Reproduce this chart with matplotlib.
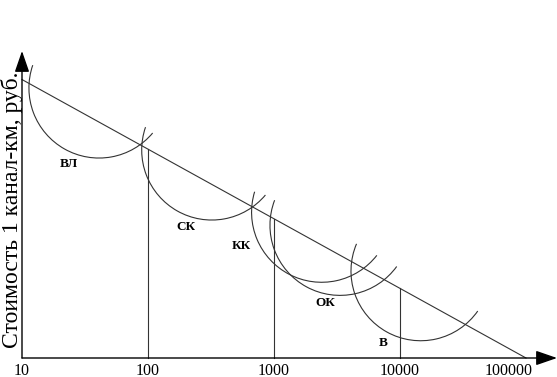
import matplotlib
matplotlib.use("Agg")
import matplotlib.pyplot as plt
from matplotlib.patches import Arc
import numpy as np

# ---- data (x in log10 of the count, y in relative cost units) ----
tick_values = [10, 100, 1000, 10000, 100000]
tick_labels = ["10", "100", "1000", "10000", "100000"]
cost_line_x = [10, 100000]
cost_line_y = [2.21, 0.0]
boundaries = [100, 1000, 10000]
arc_names = ["ВЛ", "СК", "КК", "ОК", "В"]
arc_center_x = [10 ** 1.611, 10 ** 2.506, 10 ** 3.378, 10 ** 3.524, 10 ** 4.164]
arc_center_y = [2.143, 1.651, 1.157, 1.053, 0.690]
arc_radius = [0.556, 0.556, 0.556, 0.556, 0.553]
arc_theta1 = [161, 161, 163, 159, 157]
arc_theta2 = [320, 320, 322, 324, 325]
label_x = [10 ** 1.373, 10 ** 2.302, 10 ** 2.738, 10 ** 3.405, 10 ** 3.865]
label_y = [1.540, 1.040, 0.889, 0.437, 0.119]
ylabel = "Стоимость 1 канал-км, руб."

W, H = 557, 377
fig = plt.figure(figsize=(W / 100, H / 100), dpi=100)
ax = fig.add_axes([0, 0, 1, 1])
ax.set_xlim(1 - 22 / 126, 1 + (W - 22) / 126)
ax.set_ylim((358 - H) / 126, 358 / 126)
ax.axis("off")

col = "#333333"
lx = np.log10(tick_values)

# axes with arrows
ax.annotate("", xy=(1 + 535 / 126, 0), xytext=(lx[0], 0),
            arrowprops=dict(arrowstyle="-|>,head_length=1.3,head_width=0.45",
                            lw=1.0, color="black", shrinkA=0, shrinkB=0))
ax.annotate("", xy=(lx[0], (358 - 51) / 126), xytext=(lx[0], 0),
            arrowprops=dict(arrowstyle="-|>,head_length=1.3,head_width=0.45",
                            lw=1.0, color="black", shrinkA=0, shrinkB=0))

# cost line
clx = np.log10(cost_line_x)
ax.plot(clx, cost_line_y, color=col, lw=0.8)

# vertical boundaries up to cost line
for b in boundaries:
    bx = np.log10(b)
    top = np.interp(bx, clx, cost_line_y)
    ax.plot([bx, bx], [0, top], color=col, lw=0.8)

# arcs
for cx, cy, r, t1, t2 in zip(arc_center_x, arc_center_y, arc_radius, arc_theta1, arc_theta2):
    ax.add_patch(Arc((np.log10(cx), cy), 2 * r, 2 * r, theta1=t1, theta2=t2,
                     color=col, lw=0.8))

# arc labels
for name, x, y in zip(arc_names, label_x, label_y):
    ax.text(np.log10(x), y, name, ha="center", va="center",
            fontsize=9.5, fontweight="bold", family="Liberation Serif", color="black")

# tick labels
for i, (v, t) in enumerate(zip(lx, tick_labels)):
    if i == len(lx) - 1:
        ax.text(v + 0.056, -0.036, t, ha="right", va="top",
                fontsize=11.5, family="Liberation Serif")
    else:
        ax.text(v, -0.036, t, ha="center", va="top",
                fontsize=11.5, family="Liberation Serif")

# y label
fig.text(12 / W, 1 - 210 / H, ylabel, rotation=90, ha="center", va="center",
         fontsize=17, family="Liberation Serif")

fig.savefig("out.png", dpi=100)
